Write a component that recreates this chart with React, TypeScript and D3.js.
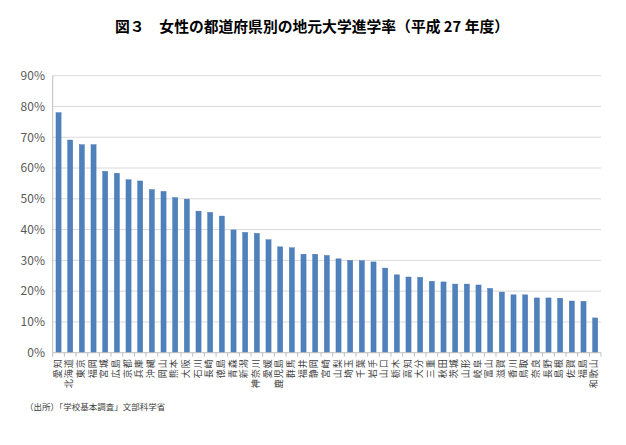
import React from "react";
import * as d3 from "d3";

const prefectures = [
  "愛知", "北海道", "東京", "福岡", "宮城", "広島", "京都", "兵庫", "沖縄", "岡山",
  "熊本", "大阪", "石川", "長崎", "徳島", "青森", "新潟", "神奈川", "愛媛", "鹿児島",
  "群馬", "福井", "静岡", "宮崎", "山梨", "埼玉", "千葉", "岩手", "山口", "栃木",
  "高知", "大分", "三重", "秋田", "茨城", "山形", "岐阜", "富山", "滋賀", "香川",
  "鳥取", "奈良", "長野", "島根", "佐賀", "福島", "和歌山",
];

const rates = [
  78.0, 69.1, 67.6, 67.6, 58.9, 58.3, 56.2, 55.8, 53.0, 52.4,
  50.4, 49.9, 46.0, 45.6, 44.4, 39.9, 39.1, 38.8, 36.7, 34.4,
  34.1, 32.0, 32.0, 31.6, 30.5, 30.0, 29.9, 29.5, 27.5, 25.3,
  24.6, 24.5, 23.2, 23.0, 22.3, 22.3, 22.0, 20.9, 19.7, 18.8,
  18.8, 17.8, 17.8, 17.7, 16.8, 16.7, 11.3,
];

const yTicks = [0, 10, 20, 30, 40, 50, 60, 70, 80, 90];

const title = "図３　女性の都道府県別の地元大学進学率（平成 27 年度）";
const source = "（出所）「学校基本調査」文部科学省";

const W = 626;
const H = 445;
const margin = { left: 52.7, right: 25, top: 75.7, bottom: 92.3 };
const FONT = "'Noto Sans CJK JP', 'Noto Sans', sans-serif";

export default function App() {
  const x = d3
    .scaleBand<string>()
    .domain(prefectures)
    .range([margin.left, W - margin.right])
    .paddingInner(0.56)
    .paddingOuter(0.28);
  const y = d3
    .scaleLinear()
    .domain([0, 90])
    .range([H - margin.bottom, margin.top]);

  const x0 = margin.left;
  const x1 = W - margin.right;
  const y0 = y(0);
  const step = (x1 - x0) / prefectures.length;

  return (
    <div style={{ position: "absolute", left: 0, top: 0 }}>
      <svg width={W} height={H} style={{ display: "block", background: "#fff" }}>
        <text
          x={312}
          y={32}
          textAnchor="middle"
          fontFamily={FONT}
          fontWeight="bold"
          fontSize={14.8}
          fill="#000"
        >
          {title}
        </text>
        {yTicks.map((t) => (
          <g key={t}>
            {t > 0 && (
              <line x1={x0} x2={x1} y1={y(t)} y2={y(t)} stroke="#d9d9d9" strokeWidth={1} />
            )}
            <text
              x={45}
              y={y(t)}
              dy="0.36em"
              textAnchor="end"
              fontFamily={FONT}
              fontSize={12}
              fill="#595959"
            >
              {t}%
            </text>
          </g>
        ))}
        {prefectures.map((p, i) => (
          <rect
            key={p}
            x={x(p)}
            y={y(rates[i])}
            width={x.bandwidth()}
            height={y0 - y(rates[i])}
            fill="#4f81bd"
            stroke="#4272ad"
            strokeWidth={0.4}
          />
        ))}
        <line x1={x0} x2={x0} y1={margin.top} y2={y0} stroke="#bfbfbf" strokeWidth={1} />
        <line x1={x0} x2={x1} y1={y0} y2={y0} stroke="#bfbfbf" strokeWidth={1} />
        {d3.range(prefectures.length + 1).map((i) => (
          <line
            key={i}
            x1={x0 + i * step}
            x2={x0 + i * step}
            y1={y0}
            y2={y0 + 4}
            stroke="#bfbfbf"
            strokeWidth={1}
          />
        ))}
        {prefectures.map((p) => {
          const cx = (x(p) as number) + x.bandwidth() / 2;
          return (
            <text
              key={p}
              transform={`translate(${cx + 2.2},${y0 + 5.5}) rotate(-90)`}
              textAnchor="end"
              fontFamily={FONT}
              fontSize={9}
              letterSpacing={1}
              fill="#404040"
            >
              {p}
            </text>
          );
        })}
        <text x={25} y={410} fontFamily={FONT} fontSize={8.5} fill="#404040">
          {source}
        </text>
      </svg>
    </div>
  );
}
